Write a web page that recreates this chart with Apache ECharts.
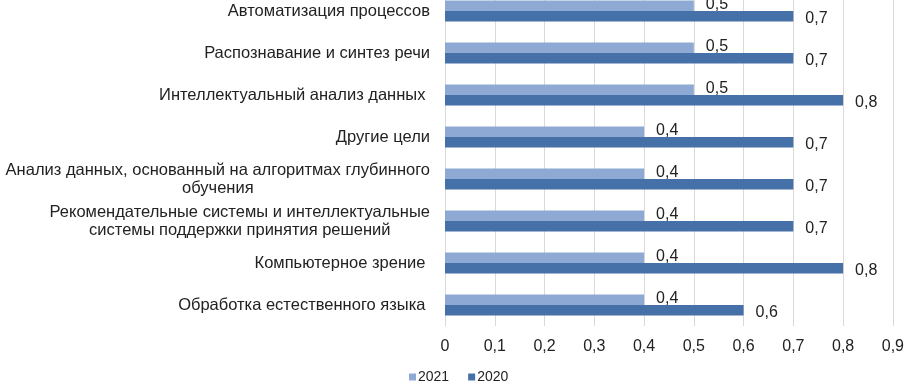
<!DOCTYPE html>
<html>
<head>
<meta charset="utf-8">
<script src="https://cdn.jsdelivr.net/npm/echarts@6/dist/echarts.min.js"></script>
<style>
  html, body { margin: 0; padding: 0; background: #fff; overflow: hidden; }
  #chart { width: 907px; height: 400px; margin-top: -10px; }
</style>
</head>
<body>
<div id="chart"></div>
<script>
// категории снизу вверх (ось категорий в ECharts идёт снизу)
var categories = [
  'Обработка естественного языка ',
  'Компьютерное зрение ',
  'Рекомендательные системы и интеллектуальные\nсистемы поддержки принятия решений',
  'Анализ данных, основанный на алгоритмах глубинного\nобучения',
  'Другие цели',
  'Интеллектуальный анализ данных ',
  'Распознавание и синтез речи',
  'Автоматизация процессов'
];
var values2021 = [0.4, 0.4, 0.4, 0.4, 0.4, 0.5, 0.5, 0.5];
var values2020 = [0.6, 0.8, 0.7, 0.7, 0.7, 0.8, 0.7, 0.7];
var xTicks = [0, 0.1, 0.2, 0.3, 0.4, 0.5, 0.6, 0.7, 0.8, 0.9];

var fontFamily = 'Liberation Sans, Arial, sans-serif';

function comma(v) {
  return String(Math.round(v * 10) / 10).replace('.', ',');
}

var myChart = echarts.init(document.getElementById('chart'));

var option = {
  backgroundColor: '#ffffff',
  animation: false,
  textStyle: { fontFamily: fontFamily },
  color: ['#8EA9D4', '#4570A8'],
  legend: {
    data: ['2021', '2020'],
    left: 404,
    bottom: 1,
    itemWidth: 7,
    itemHeight: 7,
    itemGap: 19,
    icon: 'rect',
    textStyle: { fontSize: 14, color: '#222', padding: [0, 0, 0, -3] }
  },
  // верх сетки — за пределами окна, как в исходнике
  grid: {
    left: 445,
    right: 12,
    top: 0,
    bottom: 64
  },
  xAxis: {
    type: 'value',
    min: 0,
    max: xTicks[xTicks.length - 1],
    interval: 0.1,
    axisLine: { show: false },
    axisTick: { show: false },
    splitLine: { show: true, lineStyle: { color: '#d9d9d9', width: 1 } },
    axisLabel: {
      margin: 13,
      fontSize: 16,
      color: '#222',
      formatter: function(v) { return comma(v); }
    }
  },
  yAxis: {
    type: 'category',
    data: categories,
    axisLine: { show: true, lineStyle: { color: '#d9d9d9', width: 1 } },
    axisTick: { show: false },
    axisLabel: {
      margin: 15,
      fontSize: 16.5,
      color: '#222',
      lineHeight: 18,
      formatter: function(v) {
        return v.split('\n').map(function(s) { return '{c|' + s + '}'; }).join('\n');
      },
      rich: {
        c: { align: 'center', fontSize: 16.5, lineHeight: 18, color: '#222', fontFamily: fontFamily }
      }
    }
  },
  series: [
    {
      name: '2021',
      type: 'bar',
      data: values2021,
      barGap: '0%',
      barCategoryGap: '50%',
      label: {
        show: true,
        position: 'right',
        distance: 12,
        offset: [0, -1],
        fontSize: 16,
        color: '#222',
        formatter: function(p) { return comma(p.value); }
      }
    },
    {
      name: '2020',
      type: 'bar',
      data: values2020,
      barGap: '0%',
      barCategoryGap: '50%',
      label: {
        show: true,
        position: 'right',
        distance: 12,
        offset: [0, 2],
        fontSize: 16,
        color: '#222',
        formatter: function(p) { return comma(p.value); }
      }
    }
  ]
};

myChart.setOption(option);
</script>
</body>
</html>
